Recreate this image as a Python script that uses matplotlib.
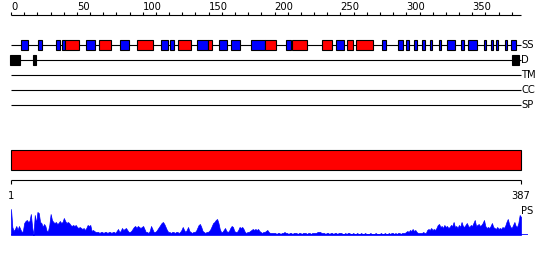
import matplotlib
matplotlib.use("Agg")
import matplotlib.pyplot as plt
from matplotlib.patches import Rectangle
import numpy as np

plt.rcParams['font.family'] = ['DejaVu Sans']

# ---------------- data ----------------
seq_len = 387
ruler_ticks = list(range(0, 381, 10))
ruler_labels = list(range(0, 351, 50))
track_names = ["SS", "D", "TM", "CC", "SP"]

# secondary structure: strands (blue) and helices (red), residue ranges
strands = [(7.4, 13.1), (20.7, 23.3), (34.1, 37.4), (38.9, 41.2), (57.2, 63.5),
           (83.0, 89.8), (114.0, 119.4), (120.9, 123.9), (141.4, 149.7),
           (157.8, 163.7), (166.9, 174.0), (182.1, 192.5), (208.7, 212.2),
           (246.9, 252.9), (281.8, 284.3), (293.9, 297.2), (299.5, 302.3),
           (305.8, 308.3), (311.9, 314.5), (318.0, 319.7), (324.5, 326.1),
           (330.6, 337.2), (341.2, 343.5), (347.0, 353.8), (358.9, 360.4),
           (364.2, 366.0), (367.8, 369.6), (374.9, 376.6), (379.6, 383.5)]
helices = [(41.2, 51.8), (66.5, 76.1), (95.8, 107.5), (127.0, 136.8),
           (149.7, 152.8), (192.5, 201.1), (213.5, 224.4), (235.8, 243.4),
           (255.2, 259.3), (262.0, 274.9)]
# disordered regions
disorder = [(-0.8, 6.8), (16.5, 18.7), (380.0, 385.8)]

# PS profile (per residue score, 1..387)
ps_val = [
    26, 8, 4, 6, 9, 5, 9, 6, 3, 4,
    12, 14, 15, 13, 14, 21, 8, 0, 20, 12,
    23, 22, 13, 12, 8, 11, 9, 4, 4, 10,
    21, 15, 13, 12, 13, 11, 12, 14, 12, 13,
    17, 14, 12, 13, 12, 10, 9, 10, 9, 10,
    8, 7, 8, 7, 6, 7, 5, 7, 10, 9,
    10, 4, 5, 4, 3, 3, 3, 2, 3, 3,
    2, 3, 3, 2, 3, 3, 2, 3, 3, 2,
    4, 6, 3, 4, 7, 5, 6, 7, 5, 3,
    3, 4, 6, 8, 9, 7, 9, 8, 7, 8,
    9, 6, 3, 3, 2, 4, 9, 6, 3, 3,
    4, 6, 8, 10, 12, 13, 11, 8, 5, 3,
    3, 2, 3, 3, 2, 3, 3, 2, 3, 5,
    8, 5, 3, 5, 8, 4, 3, 2, 3, 3,
    4, 7, 10, 11, 8, 4, 3, 2, 3, 3,
    4, 6, 9, 12, 13, 15, 16, 12, 6, 3,
    3, 5, 7, 4, 3, 4, 7, 9, 8, 4,
    3, 3, 5, 8, 7, 8, 6, 3, 2, 3,
    3, 4, 5, 6, 5, 6, 5, 6, 4, 3,
    2, 3, 3, 4, 5, 3, 2, 2, 2, 2,
    2, 1, 2, 2, 1, 2, 2, 3, 2, 2,
    1, 2, 2, 1, 2, 2, 2, 1, 2, 2,
    1, 2, 2, 2, 1, 2, 2, 1, 2, 2,
    2, 2, 3, 3, 3, 2, 2, 2, 1, 2,
    2, 1, 2, 2, 1, 2, 2, 1, 2, 2,
    2, 1, 1, 2, 1, 2, 2, 1, 1, 2,
    1, 1, 2, 1, 1, 2, 1, 1, 2, 1,
    1, 1, 2, 1, 1, 1, 2, 1, 1, 1,
    2, 1, 1, 2, 1, 1, 2, 1, 2, 2,
    1, 2, 1, 2, 2, 1, 2, 2, 2, 3,
    4, 3, 5, 4, 6, 4, 5, 3, 2, 2,
    2, 2, 3, 2, 2, 5, 6, 5, 7, 5,
    6, 5, 7, 10, 11, 8, 9, 7, 10, 8,
    9, 7, 8, 10, 9, 13, 8, 9, 7, 10,
    8, 13, 9, 8, 10, 12, 9, 8, 10, 9,
    12, 15, 9, 10, 11, 9, 10, 12, 15, 9,
    7, 8, 7, 9, 12, 8, 7, 6, 8, 6,
    7, 6, 8, 7, 9, 13, 16, 11, 8, 7,
    10, 13, 9, 8, 12, 20, 18,
]
ps_res = list(range(1, len(ps_val) + 1))

# ---------------- figure ----------------
W, H = 550, 260
fig = plt.figure(figsize=(W / 100, H / 100), dpi=100)

FS = 7.2
LW = 0.8
BLUE = "#0000FF"
RED = "#FF0000"

# upper panel: residues 0..387 from px 11 to 521; y in pixel rows
k = 510 / seq_len
ax = fig.add_axes([0, 0, 1, 1])
ax.set_xlim(-11 / k, seq_len + 29 / k)
ax.set_ylim(H, 0)
ax.axis("off")

# ruler
ax.plot([0, seq_len], [15, 15], color="black", lw=LW, solid_capstyle="butt")
for t in ruler_ticks:
    ax.plot([t, t], [12, 15], color="black", lw=LW, solid_capstyle="butt")
for t in ruler_labels:
    ax.text(t, 10, str(t), ha="left", va="baseline", fontsize=FS)

# tracks
track_y = [45, 60, 75, 90, 105]
for name, y in zip(track_names, track_y):
    ax.plot([0, seq_len], [y, y], color="black", lw=LW, zorder=1,
            solid_capstyle="butt")
    ax.text(seq_len, y, name, ha="left", va="center", fontsize=FS)

for s, e in strands:
    ax.add_patch(Rectangle((s, 40), e - s, 10, fc=BLUE, ec="black", lw=LW, zorder=2))
for s, e in helices:
    ax.add_patch(Rectangle((s, 40), e - s, 10, fc=RED, ec="black", lw=LW, zorder=2))
for s, e in disorder:
    ax.add_patch(Rectangle((s, 55), e - s, 10, fc="black", ec="black", lw=LW, zorder=2))

# lower panel: residues 1..387 from px 11 to 521
k2 = 510 / (seq_len - 1)
ax2 = fig.add_axes([0, 0, 1, 1])
ax2.set_xlim(1 - 11 / k2, seq_len + 29 / k2)
ax2.set_ylim(H, 0)
ax2.axis("off")
ax2.patch.set_alpha(0)

ax2.add_patch(Rectangle((1, 150), seq_len - 1, 20, fc=RED, ec="black", lw=LW))
ax2.plot([1, seq_len], [180, 180], color="black", lw=LW, solid_capstyle="butt")
for t in (1, seq_len):
    ax2.plot([t, t], [180, 184], color="black", lw=LW, solid_capstyle="butt")
    ax2.text(t, 196, str(t), ha="center", va="center", fontsize=FS)
ax2.text(seq_len, 211, "PS", ha="left", va="center", fontsize=FS)

# PS profile axes (baseline at px 235)
ax3 = fig.add_axes([0, (H - 235) / H, 1, 30 / H])
ax3.set_xlim(1 - 11 / k2, seq_len + 29 / k2)
ax3.set_ylim(0, 30)
ax3.axis("off")
ax3.patch.set_alpha(0)
ax3.fill_between(ps_res, ps_val, 0, color=BLUE, lw=0.5, ec=BLUE)
ax3.plot([1, seq_len + 5], [0, 0], color=BLUE, lw=1.2, solid_capstyle="butt")

fig.savefig("out.png", dpi=100)
